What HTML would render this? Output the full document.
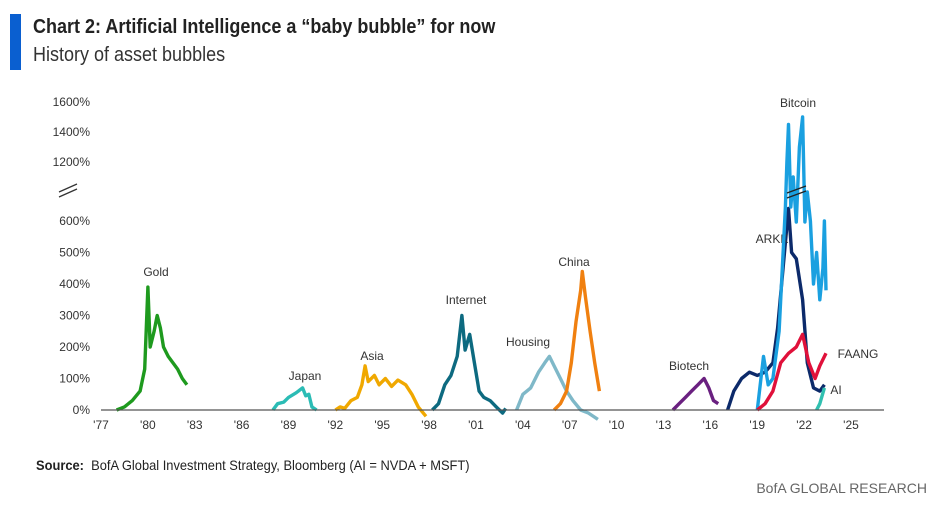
<!DOCTYPE html>
<html><head><meta charset="utf-8"><style>
body{margin:0;width:939px;height:512px;background:#fff;font-family:"Liberation Sans",sans-serif;overflow:hidden;position:relative}
.t{position:absolute;color:#222}
</style></head><body>
<div style="position:absolute;left:10px;top:14px;width:11px;height:56px;background:#0a5fd0"></div>
<div class="t" style="left:33px;top:16px;font-size:20px;font-weight:bold;transform:scaleX(0.9);transform-origin:left">Chart 2: Artificial Intelligence a “baby bubble” for now</div>
<div class="t" style="left:33px;top:44px;font-size:20px;color:#333;transform:scaleX(0.9);transform-origin:left">History of asset bubbles</div>
<svg id="c" width="939" height="512" style="position:absolute;left:0;top:0"></svg>
<div class="t" style="left:36px;top:457px;font-size:14px;transform:scaleX(0.92);transform-origin:left"><b>Source:</b>&nbsp; BofA Global Investment Strategy, Bloomberg (AI = NVDA + MSFT)</div>
<div class="t" style="right:12px;top:480px;font-size:14px;color:#666">BofA GLOBAL RESEARCH</div>
<script>
const xTickLabels=["'77","'80","'83","'86","'89","'92","'95","'98","'01","'04","'07","'10","'13","'16","'19","'22","'25"];
const xTickYears=[77,80,83,86,89,92,95,98,101,104,107,110,113,116,119,122,125];
const yTickLabels=["0%","100%","200%","300%","400%","500%","600%","1200%","1400%","1600%"];
const yTickValues=[0,100,200,300,400,500,600,1200,1400,1600];
const seriesNames=["Gold","Japan","Asia","Internet","Housing","China","Biotech","ARKK","Bitcoin","FAANG","AI"];
const seriesColors=["#1e9a1e","#2bbcb5","#f0a800","#0d6a80","#7fb8c8","#f08010","#6a2080","#0c2a6a","#1aa0e0","#e0103a","#30c0b0"];
const goldYears=[78,78.5,79,79.5,79.8,80,80.15,80.4,80.6,80.8,81,81.3,81.6,81.9,82.2,82.5];
const goldValues=[0,10,30,60,130,390,200,250,300,260,200,170,150,130,100,80];
const japanYears=[88,88.3,88.7,89,89.5,89.9,90.1,90.3,90.5,90.8];
const japanValues=[0,20,25,40,55,70,45,50,10,0];
const asiaYears=[92,92.3,92.6,93,93.4,93.7,93.9,94.1,94.5,94.8,95.2,95.6,96,96.5,96.9,97.3,97.8];
const asiaValues=[0,10,5,30,40,80,140,90,110,80,100,75,95,80,50,10,-20];
const internetYears=[98.2,98.6,99,99.4,99.8,100.1,100.3,100.6,100.9,101.2,101.5,101.9,102.3,102.7,102.9];
const internetValues=[0,20,80,110,170,300,190,240,150,60,40,30,10,-10,5];
const housingYears=[103.6,104,104.5,105,105.4,105.7,106,106.4,106.8,107.2,107.7,108.2,108.8];
const housingValues=[0,50,70,120,150,170,140,100,60,30,0,-10,-30];
const chinaYears=[106,106.4,106.8,107.1,107.4,107.7,107.8,108,108.3,108.6,108.9];
const chinaValues=[0,20,60,150,280,380,440,360,250,150,60];
const biotechYears=[113.6,114,114.4,114.8,115.2,115.6,115.9,116.2,116.5];
const biotechValues=[0,20,40,60,80,100,70,30,20];
const arkkYears=[117.1,117.5,118,118.5,119,119.5,120,120.3,120.6,121,121.2,121.5,121.9,122.2,122.6,123,123.3];
const arkkValues=[0,60,100,120,110,120,150,260,420,640,500,480,350,150,70,60,80];
const bitcoinYears=[119,119.4,119.7,120,120.4,120.8,120.9,121,121.15,121.3,121.5,121.7,121.9,122.05,122.2,122.4,122.6,122.8,123,123.2,123.3,123.4];
const bitcoinValues=[0,170,80,100,250,900,1200,1450,900,1100,800,1300,1500,800,1000,600,400,500,350,450,600,380];
const faangYears=[119,119.5,120,120.5,121,121.5,121.9,122.3,122.7,123,123.4];
const faangValues=[0,20,60,150,180,200,240,150,100,140,180];
const aiYears=[122.8,123,123.3];
const aiValues=[0,20,70];
const allYears=[goldYears,japanYears,asiaYears,internetYears,housingYears,chinaYears,biotechYears,arkkYears,bitcoinYears,faangYears,aiYears];
const allValues=[goldValues,japanValues,asiaValues,internetValues,housingValues,chinaValues,biotechValues,arkkValues,bitcoinValues,faangValues,aiValues];
const labelX=[156,305,372,466,528,574,689,772,798,858,836];
const labelY=[276,380,360,304,346,266,370,243,107,358,394];

function xs(yr){return 101+(yr-77)*15.625;}
function ys(v){return v<=700?410-v*0.315:162-(v-1200)*0.15;}
const NS="http://www.w3.org/2000/svg";
const svg=document.getElementById('c');
function mk(t,a){const e=document.createElementNS(NS,t);for(const k in a)e.setAttribute(k,a[k]);svg.appendChild(e);return e;}
yTickValues.forEach((v,i)=>{const e=mk('text',{x:90,y:ys(v)+4,'text-anchor':'end','font-size':12,fill:'#333'});e.textContent=yTickLabels[i];

});
xTickYears.forEach((yr,i)=>{const e=mk('text',{x:xs(yr),y:429,'text-anchor':'middle','font-size':12,fill:'#333'});e.textContent=xTickLabels[i];

});
const br=mk('path',{d:'M59,192 L77,184 M59,197 L77,189',stroke:'#333','stroke-width':1.3,fill:'none'});


allYears.forEach((yrs,s)=>{
  let d='';yrs.forEach((yr,i)=>{d+=(i?'L':'M')+xs(yr).toFixed(1)+','+ys(allValues[s][i]).toFixed(1);});
  const p=mk('path',{d:d,stroke:seriesColors[s],'stroke-width':3.4,fill:'none','stroke-linejoin':'round'});
  
  
  const t=mk('text',{x:labelX[s],y:labelY[s],'text-anchor':'middle','font-size':12,fill:'#333'});t.textContent=seriesNames[s];
  
  
});
const ax=mk('line',{x1:101,y1:410,x2:884,y2:410,stroke:'#555','stroke-width':1.3});


const br2=mk('path',{d:'M787,193 L806,186 M787,198 L806,191',stroke:'#222','stroke-width':1.3,fill:'none'});


</script>
</body></html>
